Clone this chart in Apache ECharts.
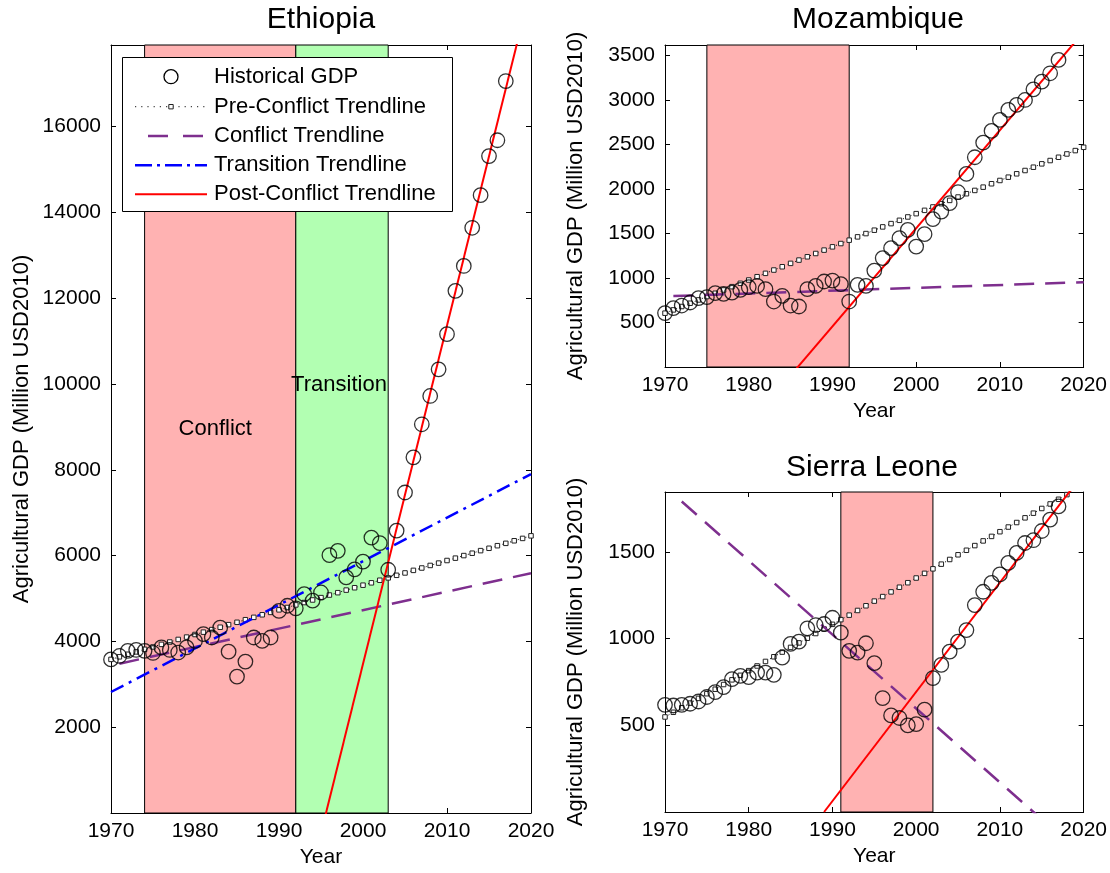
<!DOCTYPE html>
<html><head><meta charset="utf-8">
<script src="https://cdn.jsdelivr.net/npm/echarts@6/dist/echarts.min.js"></script>
<style>html,body{margin:0;padding:0;background:#fff}#c{width:1110px;height:873px}</style>
</head><body><div id="c"></div>
<script>
// ---------- DATA ----------
const histYears = [1970,1971,1972,1973,1974,1975,1976,1977,1978,1979,
  1980,1981,1982,1983,1984,1985,1986,1987,1988,1989,
  1990,1991,1992,1993,1994,1995,1996,1997,1998,1999,
  2000,2001,2002,2003,2004,2005,2006,2007,2008,2009,
  2010,2011,2012,2013,2014,2015,2016,2017];
const trendYears = [1970,1971,1972,1973,1974,1975,1976,1977,1978,1979,
  1980,1981,1982,1983,1984,1985,1986,1987,1988,1989,
  1990,1991,1992,1993,1994,1995,1996,1997,1998,1999,
  2000,2001,2002,2003,2004,2005,2006,2007,2008,2009,
  2010,2011,2012,2013,2014,2015,2016,2017,2018,2019,2020];

// Ethiopia
const ethHist = [3580,3660,3780,3800,3780,3730,3860,3800,3740,3860,
  4010,4170,4090,4320,3760,3180,3530,4090,4010,4090,
  4710,4830,4770,5100,4950,5140,6010,6110,5490,5680,
  5860,6420,6290,5670,6580,7470,8290,9060,9720,10340,
  11160,12170,12750,13640,14400,15310,15680,17060];
const ethPre = [3580,3640,3700,3755,3815,3870,3930,3985,4045,4100,
  4160,4215,4275,4330,4390,4445,4505,4560,4620,4675,
  4735,4790,4850,4905,4965,5020,5080,5135,5195,5250,
  5310,5365,5425,5480,5540,5595,5655,5710,5770,5825,
  5885,5940,6000,6055,6115,6170,6230,6285,6345,6400,6460];
const ethConflictX = [1971, 2020], ethConflictY = [3480, 5590];
const ethTransX = [1970, 2020], ethTransY = [2820, 7900];
const ethPostX = [1995, 2020], ethPostY = [-470, 19250];
const ethConflictPeriod = [1974, 1992];
const ethTransitionPeriod = [1992, 2003];

// Mozambique
const mozHist = [606,662,691,725,774,785,830,822,837,867,
  898,912,875,736,800,691,680,875,912,961,
  972,931,736,924,912,1084,1224,1336,1448,1542,
  1354,1493,1662,1747,1842,1965,2171,2358,2522,2654,
  2778,2890,2946,3002,3122,3208,3302,3452];
const mozPre = [605,642,680,717,754,792,829,866,903,941,
  978,1015,1053,1090,1127,1165,1202,1239,1276,1314,
  1351,1388,1426,1463,1500,1538,1575,1612,1649,1687,
  1724,1761,1799,1836,1873,1911,1948,1985,2022,2060,
  2097,2134,2172,2209,2246,2284,2321,2358,2395,2433,2470];
const mozConflictX = [1971, 2020], mozConflictY = [797, 954];
const mozPostX = [1985, 2020], mozPostY = [-95, 3766];
const mozConflictPeriod = [1975, 1992];

// Sierra Leone
const sleHist = [618,614,618,624,637,663,691,720,766,785,
  778,804,804,791,890,969,982,1059,1078,1084,
  1120,1034,929,919,973,858,657,557,542,499,
  507,590,772,848,925,982,1049,1193,1270,1321,
  1370,1436,1494,1551,1567,1620,1686,1762];
const slePre = [548,575,601,628,655,682,708,735,762,788,
  815,842,868,895,922,949,975,1002,1029,1055,
  1082,1109,1135,1162,1189,1216,1242,1269,1296,1322,
  1349,1376,1402,1429,1456,1483,1509,1536,1563,1589,
  1616,1643,1669,1696,1723,1750,1776,1803,1830,1856,1883];
const sleConflictX = [1972, 2016], sleConflictY = [1790, -85];
const slePostX = [1989, 2020], slePostY = [0, 1953];
const sleConflictPeriod = [1991, 2002];

const legendNames = ['Historical GDP','Pre-Conflict Trendline','Conflict Trendline','Transition Trendline','Post-Conflict Trendline'];

// ---------- BUILD ----------
const FONT = '"Liberation Sans", Arial, Helvetica, sans-serif';
const zip = (xs, ys) => xs.map((x, i) => [x, ys[i]]);
const PINK = '#ffb2b2', GREEN = '#b2ffb2', PURPLE = '#7e2f8e';

const grids = [
  {left: 111, top: 45, width: 420, height: 769},
  {left: 665, top: 45, width: 421, height: 322},
  {left: 665, top: 492, width: 421, height: 320}
];
const yMax = [17900, 3620, 1845];
const yInt = [2000, 500, 500];

const xAxis = [], yAxis = [];
grids.forEach((g, gi) => {
  const base = {
    type: 'value', gridIndex: gi, min: 1970, max: 2020, interval: 10,
    axisLine: {show: true, onZero: false, lineStyle: {color: '#000', width: 1}},
    axisTick: {show: true, inside: true, length: 5, lineStyle: {color: '#000'}},
    splitLine: {show: false}
  };
  xAxis.push(Object.assign({}, base, {
    position: 'bottom',
    axisLabel: {fontSize: 21, color: '#000', margin: 8, fontFamily: FONT, formatter: v => String(v)},
    name: 'Year', nameLocation: 'middle', nameGap: 34,
    nameTextStyle: {fontSize: 21, color: '#000', fontFamily: FONT}
  }));
  xAxis.push(Object.assign({}, base, {position: 'top', axisLabel: {show: false}}));
  const ybase = {
    type: 'value', gridIndex: gi, min: 0, max: yMax[gi], interval: yInt[gi],
    axisLine: {show: true, onZero: false, lineStyle: {color: '#000', width: 1}},
    axisTick: {show: true, inside: true, length: 5, lineStyle: {color: '#000'}},
    splitLine: {show: false}
  };
  yAxis.push(Object.assign({}, ybase, {
    position: 'left',
    axisLabel: {fontSize: 21, color: '#000', margin: 10, fontFamily: FONT, showMinLabel: false, showMaxLabel: false,
                formatter: v => String(v)},
    name: 'Agricultural GDP (Million USD2010)', nameLocation: 'middle', nameGap: 78,
    nameTextStyle: {fontSize: 22, color: '#000', fontFamily: FONT}
  }));
  yAxis.push(Object.assign({}, ybase, {position: 'right', axisLabel: {show: false}}));
});

const series = [];
function periodSeries(gi, periods) {
  series.push({
    type: 'line', xAxisIndex: gi * 2, yAxisIndex: gi * 2, data: [], z: 1, silent: true,
    markArea: {
      silent: true,
      data: periods.map(p => [
        {xAxis: p.range[0], itemStyle: {color: p.color, borderColor: '#000', borderWidth: 1},
         label: {show: !!p.label, formatter: p.label || '', position: 'inside', offset: p.offset || [0, 0],
                 fontSize: 22, color: '#000', fontFamily: FONT}},
        {xAxis: p.range[1]}
      ])
    }
  });
}
function histSeries(gi, vals) {
  series.push({
    name: legendNames[0], type: 'scatter', xAxisIndex: gi * 2, yAxisIndex: gi * 2,
    data: zip(histYears, vals), symbol: 'circle', symbolSize: 14.5, z: 5,
    itemStyle: {color: 'rgba(0,0,0,0)', borderColor: '#000', borderWidth: 1.3}
  });
}
function preSeries(gi, vals) {
  series.push({
    name: legendNames[1], type: 'line', xAxisIndex: gi * 2, yAxisIndex: gi * 2,
    data: zip(trendYears, vals), symbol: 'rect', symbolSize: 4.5, showSymbol: true, z: 3,
    lineStyle: {color: '#000', width: 1, type: [1, 3]},
    itemStyle: {color: '#fff', borderColor: '#222', borderWidth: 1}
  });
}
function lineSeries(gi, name, xs, ys, color, type, width) {
  series.push({
    name, type: 'line', xAxisIndex: gi * 2, yAxisIndex: gi * 2,
    data: zip(xs, ys), symbol: 'none', z: 4,
    lineStyle: {color, width, type}, itemStyle: {color}
  });
}

// Ethiopia
periodSeries(0, [
  {range: ethConflictPeriod, color: PINK, label: 'Conflict', offset: [-5, 0]},
  {range: ethTransitionPeriod, color: GREEN, label: 'Transition', offset: [-3, -44]}
]);
histSeries(0, ethHist);
preSeries(0, ethPre);
lineSeries(0, legendNames[2], ethConflictX, ethConflictY, PURPLE, [20, 11], 2.5);
lineSeries(0, legendNames[3], ethTransX, ethTransY, '#0000ff', [14, 6, 3, 6], 2.5);
lineSeries(0, legendNames[4], ethPostX, ethPostY, '#ff0000', 'solid', 2);

// Mozambique
periodSeries(1, [{range: mozConflictPeriod, color: PINK}]);
histSeries(1, mozHist);
preSeries(1, mozPre);
lineSeries(1, legendNames[2], mozConflictX, mozConflictY, PURPLE, [20, 11], 2.5);
lineSeries(1, legendNames[4], mozPostX, mozPostY, '#ff0000', 'solid', 2);

// Sierra Leone
periodSeries(2, [{range: sleConflictPeriod, color: PINK}]);
histSeries(2, sleHist);
preSeries(2, slePre);
lineSeries(2, legendNames[2], sleConflictX, sleConflictY, PURPLE, [20, 11], 2.5);
lineSeries(2, legendNames[4], slePostX, slePostY, '#ff0000', 'solid', 2);

// ---------- LEGEND (drawn as graphic, Ethiopia panel) ----------
const LX = 122.5, LY = 57.5, LW = 330, LH = 154;
const rowY = [76.7, 106.7, 136, 165.2, 194.3];
const iconX0 = 135, iconX1 = 207, iconMid = 171, textX = 214;
const legendGraphics = [
  {type: 'rect', shape: {x: LX, y: LY, width: LW, height: LH},
   style: {fill: '#fff', stroke: '#000', lineWidth: 1}, z: 100},
  {type: 'circle', shape: {cx: iconMid, cy: rowY[0], r: 7},
   style: {fill: 'none', stroke: '#000', lineWidth: 1.3}, z: 101},
  {type: 'line', shape: {x1: iconX0, y1: rowY[1], x2: iconX1, y2: rowY[1]},
   style: {stroke: '#444', lineWidth: 1.2, lineDash: [1.2, 5]}, z: 101},
  {type: 'rect', shape: {x: iconMid - 2.2, y: rowY[1] - 2.2, width: 4.4, height: 4.4},
   style: {fill: '#fff', stroke: '#222', lineWidth: 1}, z: 102},
  {type: 'line', shape: {x1: 148, y1: rowY[2], x2: 203, y2: rowY[2]},
   style: {stroke: PURPLE, lineWidth: 2.5, lineDash: [20, 15]}, z: 101},
  {type: 'line', shape: {x1: iconX0, y1: rowY[3], x2: iconX1, y2: rowY[3]},
   style: {stroke: '#0000ff', lineWidth: 2.5, lineDash: [17, 5, 3, 5]}, z: 101},
  {type: 'line', shape: {x1: iconX0, y1: rowY[4], x2: iconX1, y2: rowY[4]},
   style: {stroke: '#ff0000', lineWidth: 2}, z: 101}
];
legendNames.forEach((n, i) => legendGraphics.push({
  type: 'text', x: textX, y: rowY[i], z: 101,
  style: {text: n, fontSize: 22, fontFamily: FONT, fill: '#000', verticalAlign: 'middle', align: 'left'}
}));

const option = {
  backgroundColor: '#fff',
  animation: false,
  title: [
    {text: 'Ethiopia', left: 316, top: 0, textAlign: 'center'},
    {text: 'Mozambique', left: 873, top: 0, textAlign: 'center'},
    {text: 'Sierra Leone', left: 867, top: 448, textAlign: 'center'}
  ].map(t => Object.assign(t, {textStyle: {fontSize: 30, fontWeight: 'normal', color: '#000', fontFamily: FONT}})),
  grid: grids,
  xAxis, yAxis,
  graphic: legendGraphics,
  series
};
const chart = echarts.init(document.getElementById('c'), null, {renderer: 'canvas'});
chart.setOption(option);
</script></body></html>
